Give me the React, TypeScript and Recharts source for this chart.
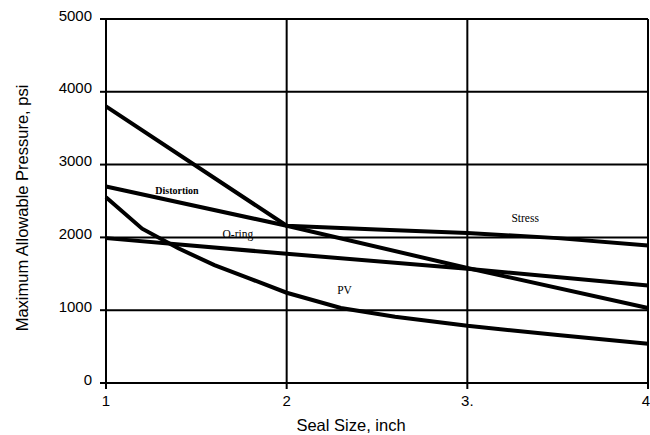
import React from 'react';
import { LineChart, Line, XAxis, YAxis, CartesianGrid, ReferenceDot } from 'recharts';

// seal size (inch) / maximum allowable pressure (psi)
const stressSize = [1, 2, 2.5, 3, 3.5, 4];
const stressPsi = [3800, 2160, 2110, 2060, 1990, 1890];

const distortionSize = [1, 2, 3, 4];
const distortionPsi = [2700, 2160, 1580, 1030];

const oringSize = [1, 2, 3, 4];
const oringPsi = [1990, 1775, 1570, 1340];

const pvSize = [1, 1.2, 1.4, 1.6, 1.8, 2, 2.3, 2.6, 3, 3.5, 4];
const pvPsi = [2550, 2120, 1850, 1620, 1430, 1240, 1030, 910, 785, 660, 540];

const xTicks = [1, 2, 3, 4];
const xTickLabels = ['1', '2', '3.', '4'];
const yTicks = [0, 1000, 2000, 3000, 4000, 5000];

// curve names written on the plot
const curveNames = ['Distortion', 'O-ring', 'Stress', 'PV'];
const nameSize = [1.393, 1.73, 3.32, 2.32];
const namePsi = [2651, 2047, 2266, 1277];
const nameFont = [10, 11.5, 11.5, 11.5];

const zip = (xs: number[], ys: number[]) => xs.map((x, i) => ({ size: x, psi: ys[i] }));

const series = [
  { key: 'stress', data: zip(stressSize, stressPsi) },
  { key: 'distortion', data: zip(distortionSize, distortionPsi) },
  { key: 'oring', data: zip(oringSize, oringPsi) },
  { key: 'pv', data: zip(pvSize, pvPsi) },
];

const sans = '"Liberation Sans", Arial, sans-serif';
const serif = '"Liberation Serif", "Times New Roman", serif';

const YTick = (props: any) => {
  const { x, y, payload } = props;
  return (
    <text x={x} y={y - 4} textAnchor="end" dominantBaseline="central" fontSize={15} fontFamily={sans} fill="#000">
      {payload.value}
    </text>
  );
};

const XTick = (props: any) => {
  const { x, y, payload } = props;
  const idx = xTicks.indexOf(payload.value);
  return (
    <text x={x} y={y} dy="0.71em" textAnchor="middle" fontSize={15} fontFamily={sans} fill="#000">
      {idx >= 0 ? xTickLabels[idx] : payload.value}
    </text>
  );
};

export default function App() {
  return (
    <div style={{ position: 'absolute', left: 0, top: 0, background: '#fff' }}>
      <LineChart width={650} height={435} margin={{ top: 19, right: 2, bottom: 0, left: 0 }}>
        <CartesianGrid stroke="#000" strokeWidth={2} />
        <XAxis
          type="number"
          dataKey="size"
          domain={[1, 4]}
          ticks={xTicks}
          height={52}
          tickSize={6}
          tickMargin={6}
          axisLine={{ stroke: '#000', strokeWidth: 2 }}
          tickLine={{ stroke: '#000', strokeWidth: 2 }}
          tick={<XTick />}
          allowDuplicatedCategory={false}
          label={{
            content: ({ viewBox }: any) => (
              <text
                x={viewBox.x + viewBox.width / 2 - 26}
                y={viewBox.y + 48}
                textAnchor="middle"
                fontSize={16.5}
                fontFamily={sans}
                fill="#000"
              >
                Seal Size, inch
              </text>
            ),
          }}
        />
        <YAxis
          type="number"
          domain={[0, 5000]}
          ticks={yTicks}
          width={106}
          tickSize={6}
          tickMargin={8}
          axisLine={{ stroke: '#000', strokeWidth: 2 }}
          tickLine={{ stroke: '#000', strokeWidth: 2 }}
          tick={<YTick />}
          label={{
            content: ({ viewBox }: any) => {
              const cx = 28;
              const cy = viewBox.y + viewBox.height / 2 + 7;
              return (
                <text
                  x={cx}
                  y={cy}
                  transform={`rotate(-90 ${cx} ${cy})`}
                  textAnchor="middle"
                  fontSize={16.5}
                  fontFamily={sans}
                  fill="#000"
                >
                  Maximum Allowable Pressure, psi
                </text>
              );
            },
          }}
        />
        {series.map((s) => (
          <Line
            key={s.key}
            data={s.data}
            dataKey="psi"
            type="linear"
            stroke="#000"
            strokeWidth={4}
            dot={false}
            activeDot={false}
            isAnimationActive={false}
          />
        ))}
        {curveNames.map((name, i) => (
          <ReferenceDot
            key={name}
            x={nameSize[i]}
            y={namePsi[i]}
            r={0}
            fill="none"
            stroke="none"
            ifOverflow="visible"
            label={{
              content: ({ viewBox }: any) => (
                <text
                  x={viewBox.x + (viewBox.width || 0) / 2}
                  y={viewBox.y + (viewBox.height || 0) / 2}
                  textAnchor="middle"
                  dominantBaseline="central"
                  fontSize={nameFont[i]}
                  fontFamily={serif}
                  fontWeight={i === 0 ? 600 : 'normal'}
                  fill="#000"
                >
                  {name}
                </text>
              ),
            }}
          />
        ))}
      </LineChart>
    </div>
  );
}
